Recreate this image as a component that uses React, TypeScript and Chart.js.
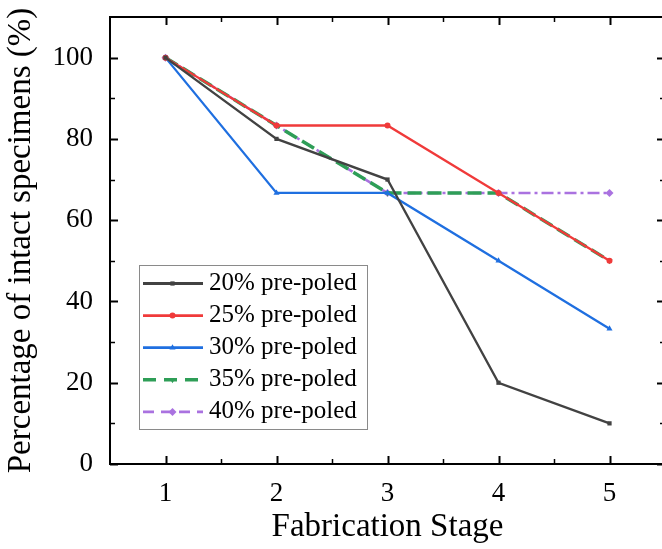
import React, { useEffect, useRef } from 'react';
import { Chart, registerables } from 'chart.js';
import { drawPoint } from 'chart.js/helpers';
Chart.register(...registerables);

const stages = [1, 2, 3, 4, 5];
const seriesLabels = ['20% pre-poled', '25% pre-poled', '30% pre-poled', '35% pre-poled', '40% pre-poled'];
const s20 = [100, 80, 70, 20, 10];
const s25 = [100, 83.3, 83.3, 66.7, 50];
const s30 = [100, 66.7, 66.7, 50, 33.3];
const s35 = [100, 83.3, 66.7, 66.7, 50];
const s40 = [100, 83.3, 66.7, 66.7, 66.7];
const xTicks = [1, 2, 3, 4, 5];
const xMinorTicks = [1.5, 2.5, 3.5, 4.5];
const yTicks = [0, 20, 40, 60, 80, 100];
const yMinorTicks = [10, 30, 50, 70, 90];
const xTitle = 'Fabrication Stage';
const yTitle = 'Percentage of intact specimens (%)';

const FONT = "'Liberation Serif', 'Times New Roman', serif";

const toPts = (vals: number[]) => stages.map((s, i) => ({ x: s, y: vals[i] }));

const framePlugin = {
  id: 'frameTicks',
  afterDraw(chart: any) {
    const { ctx, chartArea } = chart;
    const { left, right, top, bottom } = chartArea;
    const xs = chart.scales.x;
    const ys = chart.scales.y;
    ctx.save();
    ctx.strokeStyle = '#000';
    ctx.lineWidth = 2;
    ctx.setLineDash([]);
    ctx.strokeRect(left, top, right - left, bottom - top);
    const tick = (x1: number, y1: number, x2: number, y2: number, w: number) => {
      ctx.lineWidth = w;
      ctx.beginPath();
      ctx.moveTo(x1, y1);
      ctx.lineTo(x2, y2);
      ctx.stroke();
    };
    const maj = 8, mnr = 5;
    xTicks.forEach((v) => {
      const p = Math.round(xs.getPixelForValue(v)) + 0.5;
      tick(p, bottom, p, bottom - maj, 2);
      tick(p, top, p, top + maj, 2);
    });
    xMinorTicks.forEach((v) => {
      const p = Math.round(xs.getPixelForValue(v)) + 0.5;
      tick(p, bottom, p, bottom - mnr, 1.5);
      tick(p, top, p, top + mnr, 1.5);
    });
    yTicks.forEach((v) => {
      const p = Math.round(ys.getPixelForValue(v)) + 0.5;
      tick(left, p, left + maj, p, 2);
      tick(right, p, right - maj, p, 2);
    });
    yMinorTicks.forEach((v) => {
      const p = Math.round(ys.getPixelForValue(v)) + 0.5;
      tick(left, p, left + mnr, p, 1.5);
      tick(right, p, right - mnr, p, 1.5);
    });
    ctx.restore();
  },
};

const legendPlugin = {
  id: 'boxLegend',
  afterDraw(chart: any) {
    const ctx = chart.ctx;
    const x0 = 139.5, y0 = 265.5, w = 228, h = 164;
    ctx.save();
    ctx.fillStyle = '#fff';
    ctx.fillRect(x0, y0, w, h);
    ctx.strokeStyle = '#8a8a8a';
    ctx.lineWidth = 1;
    ctx.setLineDash([]);
    ctx.strokeRect(x0, y0, w, h);
    chart.data.datasets.forEach((ds: any, i: number) => {
      const cy = 283.5 + i * 32.1;
      ctx.strokeStyle = ds.borderColor;
      ctx.lineWidth = ds.legendWidth || ds.borderWidth;
      ctx.setLineDash(ds.legendDash || ds.borderDash || []);
      ctx.beginPath();
      ctx.moveTo(143, cy);
      ctx.lineTo(203, cy);
      ctx.stroke();
      ctx.setLineDash([]);
      ctx.fillStyle = ds.pointBackgroundColor;
      ctx.strokeStyle = ds.pointBorderColor;
      drawPoint(ctx, {
        pointStyle: ds.pointStyle,
        rotation: ds.pointRotation || 0,
        radius: ds.pointRadius,
        borderWidth: 0,
      }, 172.5, cy);
      ctx.fillStyle = '#000';
      ctx.font = `25px ${FONT}`;
      ctx.textBaseline = 'middle';
      ctx.textAlign = 'left';
      ctx.fillText(ds.label, 209, cy);
    });
    ctx.restore();
  },
};

function mk(label: string, vals: number[], color: string, style: string, radius: number, width: number, dash: number[], rot = 0, legendDash?: number[], legendWidth?: number) {
  return {
    label,
    data: toPts(vals),
    borderColor: color,
    backgroundColor: color,
    pointBackgroundColor: color,
    pointBorderColor: color,
    pointBorderWidth: 0,
    pointStyle: style,
    pointRotation: rot,
    pointRadius: radius,
    borderWidth: width,
    borderDash: dash,
    legendDash,
    legendWidth,
    tension: 0,
    fill: false,
  };
}

export default function App() {
  const ref = useRef<HTMLCanvasElement>(null);
  useEffect(() => {
    if (!ref.current) return;
    Chart.defaults.font.family = FONT;
    Chart.defaults.color = '#000';
    const chart = new Chart(ref.current, {
      type: 'line',
      data: {
        datasets: [
          mk(seriesLabels[0], s20, '#424242', 'rect', 3, 2.3, [], 0, undefined, 2.8),
          mk(seriesLabels[1], s25, '#f03a3a', 'circle', 3, 2.3, [], 0, undefined, 2.8),
          mk(seriesLabels[2], s30, '#1f6fe0', 'triangle', 3.5, 2.3, [], 0, undefined, 2.8),
          mk(seriesLabels[3], s35, '#2e9e57', 'triangle', 3.5, 3.5, [14, 6], 180, [13, 8]),
          mk(seriesLabels[4], s40, '#aa72e0', 'rectRot', 4, 2.5, [12, 4, 3, 4], 0, [11, 7], 2.8),
        ] as any,
      },
      options: {
        animation: false,
        responsive: false,
        devicePixelRatio: 1,
        layout: { padding: { left: 0, top: 17, right: 15, bottom: 0 } },
        plugins: { legend: { display: false }, tooltip: { enabled: false } },
        scales: {
          x: {
            type: 'linear',
            min: 0.5,
            max: 5.5,
            grid: { display: false },
            border: { display: false },
            afterBuildTicks: (s: any) => { s.ticks = xTicks.map((v) => ({ value: v })); },
            afterFit: (s: any) => { s.height = 85; s.paddingLeft = 0; s.paddingRight = 0; s.paddingTop = 0; s.paddingBottom = 0; },
            ticks: { font: { size: 27 }, padding: 6, color: '#000', maxRotation: 0, autoSkip: false },
            title: { display: true, text: xTitle, font: { size: 33 }, color: '#000', padding: { top: 0, bottom: 2 } },
          },
          y: {
            type: 'linear',
            min: 0,
            max: 110,
            grid: { display: false },
            border: { display: false },
            afterBuildTicks: (s: any) => { s.ticks = yTicks.map((v) => ({ value: v })); },
            afterFit: (s: any) => { s.width = 110; s.paddingLeft = 0; s.paddingRight = 0; s.paddingTop = 0; s.paddingBottom = 0; },
            ticks: { font: { size: 27 }, padding: 9, color: '#000' },
            title: { display: true, text: yTitle, font: { size: 33 }, color: '#000', padding: { top: 2, bottom: 0 } },
          },
        },
      },
      plugins: [framePlugin, legendPlugin],
    });
    return () => chart.destroy();
  }, []);
  return (
    <div style={{ position: 'fixed', left: 0, top: 0, width: 662, height: 549, overflow: 'hidden', background: '#fff' }}>
      <canvas ref={ref} width={680} height={549} style={{ width: 680, height: 549, display: 'block' }} />
    </div>
  );
}
